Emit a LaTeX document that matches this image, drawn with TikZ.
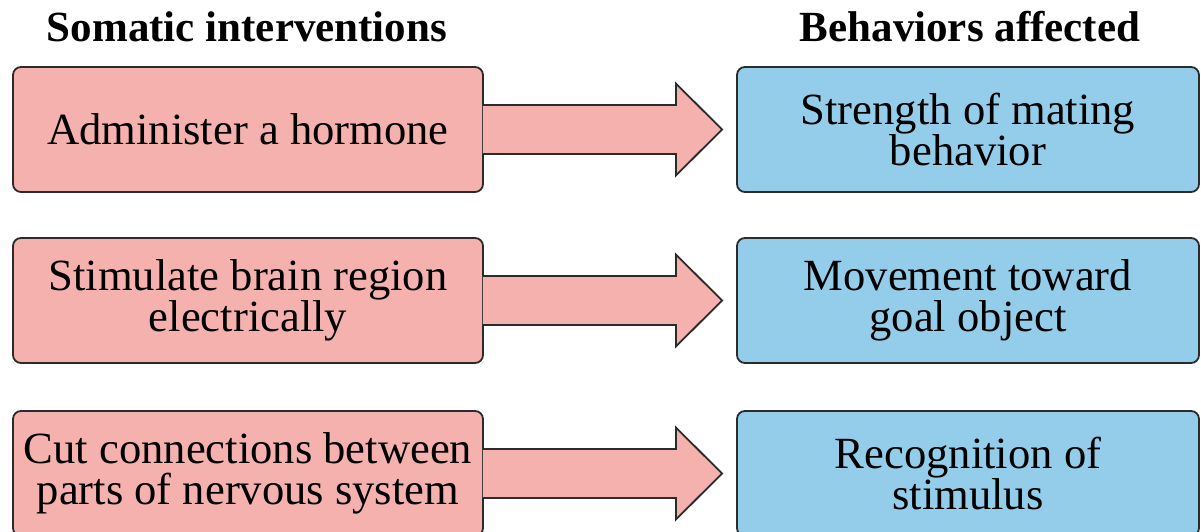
\documentclass[tikz,border=0pt]{standalone}
\usepackage{fontspec}
\setmainfont{Liberation Serif}
\usetikzlibrary{calc}
\definecolor{pinkfill}{HTML}{F4B1AE}
\definecolor{bluefill}{HTML}{93CDE9}
\definecolor{edge}{HTML}{2B2B2B}
\begin{document}
\begin{tikzpicture}[x=0.5pt,y=-0.5pt,
  box/.style={draw=edge, line width=0.9pt, rounded corners=4pt,
    minimum height=62.5pt, align=center, inner sep=0pt,
    font=\fontsize{22.3}{20.5}\selectfont},
  cause/.style={box, fill=pinkfill, minimum width=235pt},
  effect/.style={box, fill=bluefill, minimum width=231pt},
  head/.style={anchor=base, font=\fontsize{21.5}{20}\selectfont\bfseries},
  flow/.style={draw=edge, line width=0.9pt, fill=pinkfill, line join=miter}]
\useasboundingbox (0,0) rectangle (1201,531);

% column headings
\node[head] (hcause) at (247,41) {Somatic interventions};
\node[head] (heffect) at (970,41) {Behaviors affected};

% rows: intervention box, broad arrow, affected behaviour
\foreach \i/\y/\ctext/\etext in {
    1/129.5/{Administer a hormone}/{Strength of mating\\behavior},
    2/300.5/{Stimulate brain region\\electrically}/{Movement toward\\goal object},
    3/473.5/{Cut connections between\\parts of nervous system}/{Recognition of\\stimulus}}{
  \node[cause] (c\i) at (248,\y) {\ctext};
  \node[effect] (e\i) at (968,\y) {\etext};
  \draw[flow] ($(c\i.east)+(-1,-24.5)$) -- ($(c\i.east)+(192,-24.5)$)
    -- ($(c\i.east)+(192,-46)$) -- ($(e\i.west)+(-14,0)$)
    -- ($(c\i.east)+(192,46)$) -- ($(c\i.east)+(192,24.5)$)
    -- ($(c\i.east)+(-1,24.5)$);
}
\end{tikzpicture}
\end{document}
